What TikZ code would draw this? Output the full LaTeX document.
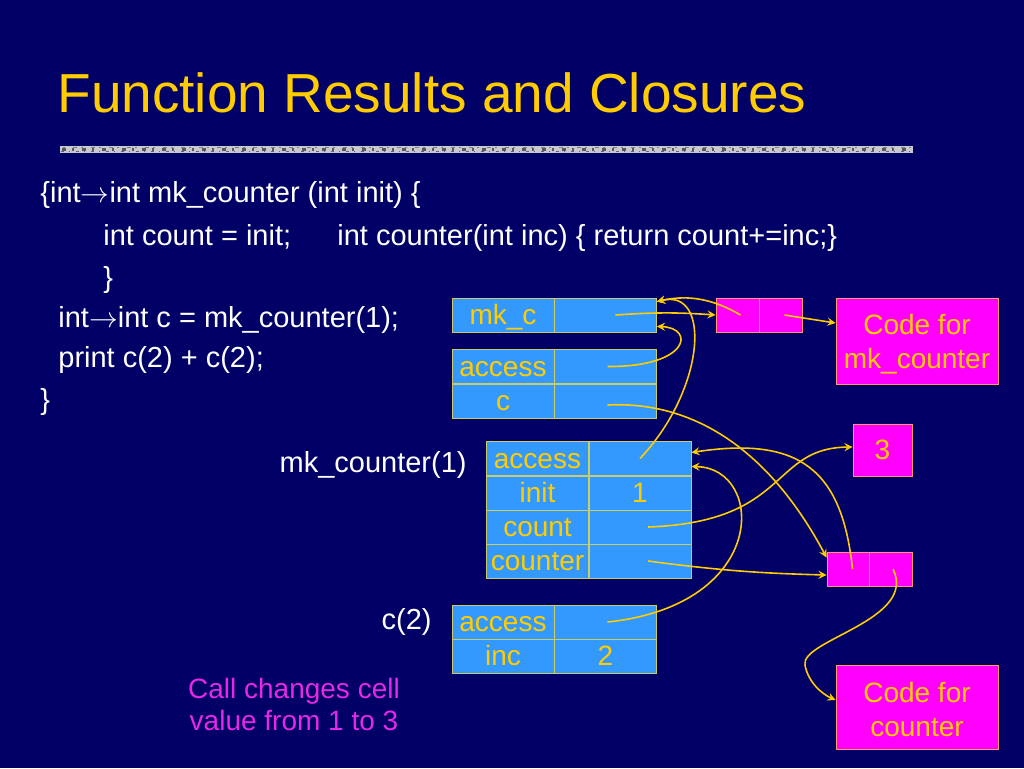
\documentclass[tikz,border=0pt]{standalone}
\usepackage{fontspec}
\setmainfont{Liberation Sans}
\usetikzlibrary{arrows}
\definecolor{slidebg}{RGB}{0,0,102}
\definecolor{titley}{RGB}{255,204,0}
\definecolor{cellblue}{RGB}{51,153,255}
\definecolor{cellline}{RGB}{204,204,102}
\definecolor{magbox}{RGB}{255,0,255}
\definecolor{magline}{RGB}{255,153,102}
\definecolor{ptrcol}{RGB}{255,204,0}
\definecolor{notecol}{RGB}{230,40,230}
\definecolor{barcol}{RGB}{200,200,208}

\begin{document}
\begin{tikzpicture}[x=0.5pt,y=-0.5pt,
  cell/.style={draw=cellline,fill=cellblue,text=titley,minimum height=17pt,minimum width=51pt,inner sep=0pt,text height=12.5pt,text depth=3pt,font=\fontsize{14}{16}\selectfont},
  mcell/.style={draw=magline,fill=magbox,minimum height=17pt,minimum width=21.5pt,inner sep=0pt},
  codebox/.style={draw=magline,fill=magbox,text=titley,minimum width=81pt,align=center,inner sep=0pt,font=\fontsize{14}{17}\selectfont},
  code/.style={anchor=base west,inner sep=0pt,text=white,font=\fontsize{14.5}{17}\selectfont},
  ptr/.style={->,>=stealth,ptrcol,line width=0.8pt}]
\fill[slidebg] (0,0) rectangle (1024,768);
\node[anchor=base west,inner sep=0pt,text=titley,font=\fontsize{27.5}{30}\selectfont] (title) at (57,112) {Function Results and Closures};
\fill[barcol] (60,146) rectangle (913,153);
\draw[gray!70!black,dash pattern=on 2pt off 3pt on 1pt off 4pt,line width=1.2pt] (62,149.5) -- (911,149.5);
\draw[gray,dash pattern=on 1pt off 4pt on 2pt off 2pt,line width=0.8pt] (63,147.5) -- (911,147.5);
\draw[gray!80!black,dash pattern=on 1.5pt off 2.5pt on 0.5pt off 3pt,line width=0.6pt] (61,151.5) -- (911,151.5);
% the program
\node[code] (l1) at (40,202) {\{int$\rightarrow$int mk\_counter (int init) \{};
\node[code] (l2a) at (103,245) {int count = init;};
\node[code] (l2b) at (337,245) {int counter(int inc) \{ return count+=inc;\}};
\node[code] (l3) at (103,287) {\}};
\node[code] (l4) at (58,327) {int$\rightarrow$int c = mk\_counter(1);};
\node[code] (l5) at (58,367) {print c(2) + c(2);};
\node[code] (l6) at (40,409) {\}};
% global frame
\node[cell] (mkc-n) at (503,315) {mk\_c};
\node[cell] (mkc-v) at (605.5,315) {};
\foreach \j/\ntext/\nm in {366.5/access/acc,401/c/c}
{
    \node[cell] (\nm-n) at (503,\j) {\ntext};
    \node[cell] (\nm-v) at (605.5,\j) {};
}
% frame of mk_counter(1)
\node[anchor=east,inner sep=0pt,text=white,font=\fontsize{14.5}{17}\selectfont] (mk1-lbl) at (467,465) {mk\_counter(1)};
\foreach \j/\ntext/\vtext/\nm in {458.5/access//fa,493/init/1/fi,527/count//fc,561/counter//fk}
{
    \node[cell] (\nm-n) at (537.5,\j) {\ntext};
    \node[cell] (\nm-v) at (640,\j) {\vtext};
}
% frame of c(2)
\node[anchor=east,inner sep=0pt,text=white,font=\fontsize{14.5}{17}\selectfont] (c2-lbl) at (432,622) {c(2)};
\foreach \j/\ntext/\vtext/\nm in {622/access//ca,656/inc/2/ci}
{
    \node[cell] (\nm-n) at (503,\j) {\ntext};
    \node[cell] (\nm-v) at (605.5,\j) {\vtext};
}
% closures and code
\node[mcell] (tp-l) at (737.5,315) {};
\node[mcell] (tp-r) at (780.5,315) {};
\node[mcell] (mp-l) at (848.5,569) {};
\node[mcell] (mp-r) at (891,569) {};
\node[mcell,minimum width=29.5pt,minimum height=26pt,text=titley,text height=12pt,text depth=3pt,font=\fontsize{14}{16}\selectfont] (three) at (882.5,450) {3};
\node[codebox,minimum height=43pt] (cmk) at (917,341) {\rule{0pt}{13pt}Code for\\mk\_counter};
\node[codebox,minimum height=42pt] (cc) at (917,707) {\rule{0pt}{13pt}Code for\\counter};
\node[align=center,inner sep=0pt,text=notecol,font=\fontsize{14}{16}\selectfont] (note) at (294,704) {Call changes cell\\value from 1 to 3};
% pointers
\coordinate (glb) at ([yshift=-2pt]mkc-v.north east);
\draw[ptr] ([xshift=5pt]mkc-v.center) to[bend left=4] (tp-l.west);
\draw[ptr] ([xshift=2pt]tp-r.center) -- ([yshift=9pt]cmk.west);
\draw[ptr] ([xshift=1.5pt]tp-l.center) .. controls (715,300) and (690,294) .. (glb);
\draw[ptr] (fa-v.center) .. controls (705,390) and (712,288) .. (glb);
\draw[ptr] ([xshift=1pt]acc-v.center) .. controls (690,367) and (695,328) .. ([yshift=3pt]mkc-v.south east);
\draw[ptr] ([xshift=1pt,yshift=-2pt]c-v.center) .. controls (710,400) and (780,470) .. ([yshift=-3pt]mp-l.north west);
\draw[ptr] ([xshift=2pt]mp-l.center) .. controls (842,470) and (800,436) .. ([yshift=3pt]fa-v.east);
\draw[ptr] ([xshift=4pt]fc-v.center) .. controls (790,522) and (770,448) .. ([yshift=1.5pt]three.west);
\draw[ptr] ([xshift=4pt]fk-v.center) to[bend right=3] ([yshift=-3pt]mp-l.west);
\draw[ptr] ([xshift=1pt]ca-v.center) .. controls (770,605) and (765,468) .. ([yshift=-4pt]fa-v.east);
\draw[ptr] ([xshift=1pt]mp-r.center) .. controls (918,620) and (800,640) .. (805,665) .. controls (808,682) and (822,694) .. ([yshift=3.5pt]cc.west);
\end{tikzpicture}
\end{document}
